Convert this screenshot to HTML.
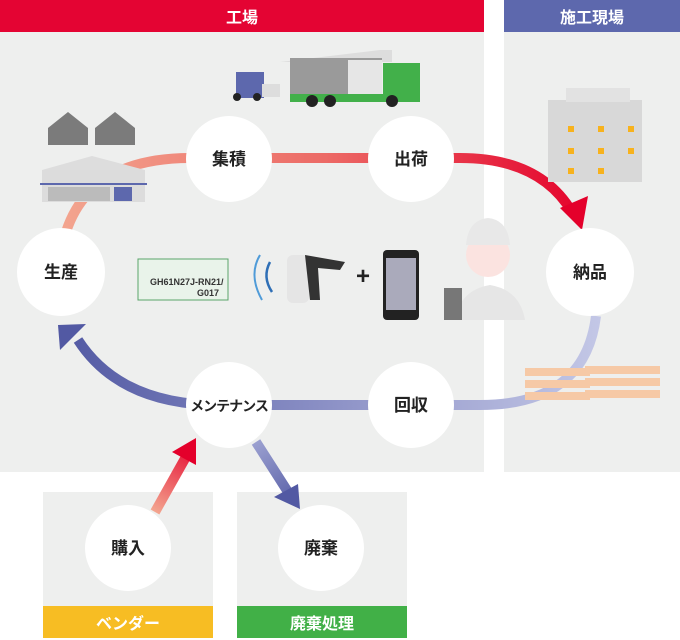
<!DOCTYPE html>
<html><head><meta charset="utf-8"><style>
html,body{margin:0;padding:0;background:#fff;width:680px;height:640px;overflow:hidden}
svg{display:block}
text{font-family:"Liberation Sans","Noto Sans CJK JP",sans-serif;font-weight:bold}
</style></head><body>
<svg width="680" height="640" viewBox="0 0 680 640" xmlns="http://www.w3.org/2000/svg">
<defs>
<linearGradient id="gr" x1="60" y1="0" x2="590" y2="0" gradientUnits="userSpaceOnUse">
<stop offset="0" stop-color="#f3a58f"/><stop offset="0.5" stop-color="#ec6a66"/><stop offset="1" stop-color="#e4002b"/></linearGradient>
<linearGradient id="gb" x1="60" y1="0" x2="600" y2="0" gradientUnits="userSpaceOnUse">
<stop offset="0" stop-color="#5259a3"/><stop offset="0.5" stop-color="#8c91c6"/><stop offset="1" stop-color="#c3c7e6"/></linearGradient>
<linearGradient id="gr2" x1="155" y1="512" x2="196" y2="440" gradientUnits="userSpaceOnUse"><stop offset="0" stop-color="#f3a58f"/><stop offset="1" stop-color="#e4002b"/></linearGradient>
<linearGradient id="gb2" x1="256" y1="442" x2="300" y2="509" gradientUnits="userSpaceOnUse"><stop offset="0" stop-color="#9ba0d0"/><stop offset="1" stop-color="#5259a3"/></linearGradient>
</defs>
<rect x="0" y="0" width="484" height="472" fill="#eeefee"/>
<rect x="0" y="0" width="484" height="32" fill="#e40433"/>
<text x="242" y="23" font-size="16" fill="#fff" text-anchor="middle">工場</text>
<rect x="504" y="0" width="176" height="472" fill="#eeefee"/>
<rect x="504" y="0" width="176" height="32" fill="#5d68ad"/>
<text x="592" y="23" font-size="16" fill="#fff" text-anchor="middle">施工現場</text>
<rect x="43" y="492" width="170" height="146" fill="#eeefee"/>
<rect x="43" y="606" width="170" height="32" fill="#f7bd23"/>
<text x="128" y="629" font-size="16" fill="#fff" text-anchor="middle">ベンダー</text>
<rect x="237" y="492" width="170" height="146" fill="#eeefee"/>
<rect x="237" y="606" width="170" height="32" fill="#41b047"/>
<text x="322" y="629" font-size="16" fill="#fff" text-anchor="middle">廃棄処理</text>

<path d="M66 232 Q90 158 190 158 L460 158 Q540 158 572 212" fill="none" stroke="url(#gr)" stroke-width="10"/>
<polygon points="560,208 588,196 582,230" fill="#e4002b"/>
<path d="M596 316 Q585 405 480 405 L220 405 Q120 405 78 340" fill="none" stroke="url(#gb)" stroke-width="10"/>
<polygon points="58,325 86,324 60,350" fill="#5259a3"/>
<path d="M155 512 L187 455" stroke="url(#gr2)" stroke-width="10"/>
<polygon points="196,438 172,452 196,465" fill="#e4002b"/>
<path d="M256 442 L288 492" stroke="url(#gb2)" stroke-width="10"/>
<polygon points="300,509 274,497 298,484" fill="#5259a3"/>

<g>
<polygon points="280,62 380,50 392,50 392,62" fill="#ddd"/>
<rect x="290" y="58" width="92" height="36" fill="#9a9a9a"/>
<rect x="348" y="60" width="34" height="34" fill="#e6e6e6"/>
<rect x="383" y="63" width="37" height="36" fill="#42b04a"/>
<rect x="290" y="94" width="130" height="8" fill="#42b04a"/>
<circle cx="312" cy="101" r="6" fill="#222"/><circle cx="330" cy="101" r="6" fill="#222"/><circle cx="392" cy="101" r="6" fill="#222"/>
<rect x="236" y="72" width="28" height="26" fill="#5d68ad"/>
<rect x="262" y="84" width="18" height="13" fill="#ddd"/>
<circle cx="237" cy="97" r="4" fill="#222"/><circle cx="257" cy="97" r="4" fill="#222"/>
<polygon points="48,128 68,112 88,128 88,145 48,145" fill="#7b7b7b"/>
<polygon points="95,128 115,112 135,128 135,145 95,145" fill="#7b7b7b"/>
<polygon points="42,170 92,156 145,170" fill="#ddd"/>
<rect x="42" y="170" width="103" height="32" fill="#dcdcdc"/>
<rect x="40" y="183" width="107" height="2" fill="#5d68ad"/>
<rect x="48" y="187" width="62" height="14" fill="#bbb"/>
<rect x="114" y="187" width="18" height="14" fill="#5d68ad"/>
<rect x="548" y="100" width="94" height="82" fill="#d8d8d8"/>
<rect x="566" y="88" width="64" height="14" fill="#e2e2e2"/>
<g fill="#f7b21d"><rect x="568" y="126" width="6" height="6"/><rect x="598" y="126" width="6" height="6"/><rect x="628" y="126" width="6" height="6"/><rect x="568" y="148" width="6" height="6"/><rect x="598" y="148" width="6" height="6"/><rect x="628" y="148" width="6" height="6"/><rect x="568" y="168" width="6" height="6"/><rect x="598" y="168" width="6" height="6"/></g>
<g fill="#f6c9a6"><rect x="525" y="368" width="65" height="8"/><rect x="525" y="380" width="65" height="8"/><rect x="525" y="392" width="65" height="8"/><rect x="585" y="366" width="75" height="8"/><rect x="585" y="378" width="75" height="8"/><rect x="585" y="390" width="75" height="8"/></g>
<rect x="138" y="259" width="90" height="41" fill="#e9f3ea" stroke="#5aa56a"/>
<text x="150" y="285" font-size="9" fill="#333" font-weight="normal">GH61N27J-RN21/</text>
<text x="197" y="296" font-size="9" fill="#333" font-weight="normal">G017</text>
<path d="M260 255 Q248 275 262 300" fill="none" stroke="#4f9bd8" stroke-width="2"/>
<path d="M270 262 Q262 277 272 292" fill="none" stroke="#2f6fb6" stroke-width="2.5"/>
<rect x="287" y="255" width="22" height="48" rx="6" fill="#e5e5e5"/>
<polygon points="305,255 345,262 340,270 318,268 320,300 310,300" fill="#333"/>
<text x="363" y="284" font-size="24" fill="#222" font-weight="normal" text-anchor="middle">+</text>
<rect x="383" y="250" width="36" height="70" rx="4" fill="#222"/>
<rect x="386" y="258" width="30" height="52" fill="#aab"/>
<path d="M455 320 Q460 290 490 285 Q520 290 525 320 Z" fill="#e6e6e6"/>
<circle cx="488" cy="255" r="22" fill="#fbe3e0"/>
<path d="M466 245 Q468 220 488 218 Q508 220 510 245 Z" fill="#e8e8e8"/>
<rect x="444" y="288" width="18" height="32" fill="#777"/>
</g>

<g fill="#fff">
<circle cx="229" cy="159" r="43"/><circle cx="411" cy="159" r="43"/>
<circle cx="61" cy="272" r="44"/><circle cx="590" cy="272" r="44"/>
<circle cx="229" cy="405" r="43"/><circle cx="411" cy="405" r="43"/>
<circle cx="128" cy="548" r="43"/><circle cx="321" cy="548" r="43"/>
</g>
<g font-size="17" fill="#222" text-anchor="middle">
<text x="229" y="165">集積</text><text x="411" y="165">出荷</text>
<text x="61" y="278">生産</text><text x="590" y="278">納品</text>
<text x="229" y="411" font-size="14" letter-spacing="-1">メンテナンス</text><text x="411" y="411">回収</text>
<text x="128" y="554">購入</text><text x="321" y="554">廃棄</text>
</g>
</svg>
</body></html>
